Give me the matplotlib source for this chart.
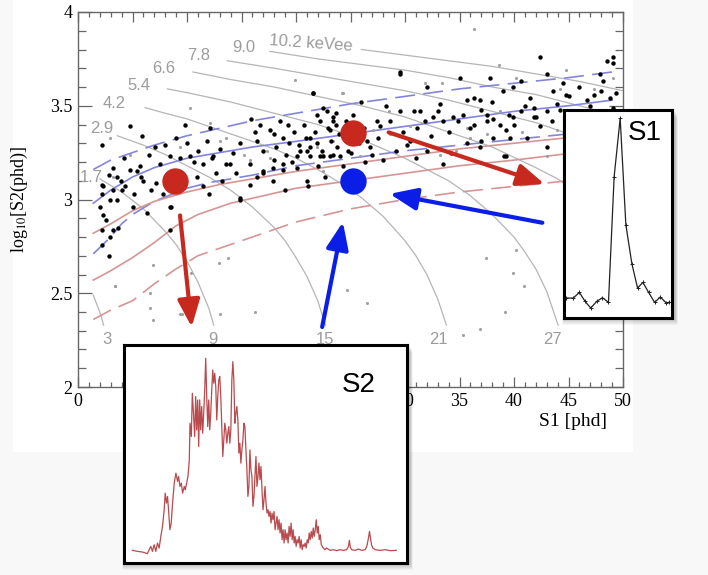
import matplotlib.pyplot as plt
from matplotlib.patches import Rectangle
from matplotlib.ticker import MultipleLocator, FormatStrFormatter

plt.rcParams['mathtext.fontset'] = 'stix'

# ---------------- data ----------------
# ER band (blue) and NR band (red): S1 [phd] vs log10(S2)
er_up_x = [1.4, 3, 5, 7, 10, 13, 16, 20, 25, 30, 35, 40, 45, 49]
er_up_y = [3.16, 3.21, 3.25, 3.29, 3.34, 3.38, 3.42, 3.46, 3.51, 3.55, 3.59, 3.62, 3.65, 3.68]
er_mid_x = [1.4, 3, 5, 7, 10, 13, 16, 20, 25, 30, 35, 40, 45, 49]
er_mid_y = [2.98, 3.05, 3.12, 3.17, 3.22, 3.25, 3.28, 3.31, 3.35, 3.39, 3.43, 3.47, 3.50, 3.53]
er_lo_x = [1.4, 3, 4, 5, 7, 10, 12, 16, 20, 25, 30, 35, 40, 45, 49]
er_lo_y = [2.71, 2.80, 2.87, 2.92, 2.99, 3.06, 3.09, 3.13, 3.18, 3.22, 3.26, 3.29, 3.32, 3.35, 3.38]
nr_up_x = [1.4, 3, 5, 7, 10, 13, 16, 20, 25, 30, 35, 40, 45, 49]
nr_up_y = [2.82, 2.87, 2.94, 2.99, 3.04, 3.08, 3.11, 3.15, 3.19, 3.23, 3.27, 3.30, 3.33, 3.36]
nr_mid_x = [1.4, 3, 5, 7, 9, 11, 14, 17, 20, 25, 30, 35, 40, 45, 49]
nr_mid_y = [2.57, 2.62, 2.69, 2.77, 2.86, 2.92, 2.98, 3.02, 3.06, 3.10, 3.14, 3.18, 3.21, 3.245, 3.27]
nr_lo_x = [1.4, 3, 5, 7, 9, 11, 14, 17, 20, 25, 30, 35, 40, 45, 49]
nr_lo_y = [2.36, 2.41, 2.46, 2.55, 2.63, 2.70, 2.76, 2.82, 2.88, 2.95, 3.00, 3.04, 3.07, 3.10, 3.12]

# constant energy contours (gray)
c03_x = [1.4, 1.8, 2.0, 2.35]
c03_y = [2.49, 2.43, 2.40, 2.33]
c17_x = [2.0, 4, 6, 8, 9, 10, 11, 12, 12.45]
c17_y = [3.11, 3.04, 2.95, 2.83, 2.76, 2.67, 2.56, 2.42, 2.33]
c29_x = [3.6, 6, 8, 10, 12, 14, 16, 18, 19, 20, 21, 22, 22.7]
c29_y = [3.34, 3.29, 3.24, 3.18, 3.12, 3.05, 2.96, 2.85, 2.78, 2.69, 2.59, 2.46, 2.33]
c42_x = [6.15, 8, 10, 12, 14, 16, 18, 20, 22, 24, 26, 28, 30, 31, 32, 33, 33.8]
c42_y = [3.49, 3.46, 3.43, 3.39, 3.35, 3.31, 3.27, 3.22, 3.16, 3.09, 3.01, 2.91, 2.78, 2.70, 2.60, 2.47, 2.33]
c54_x = [8.2, 10, 14, 18, 22, 26, 30, 34, 36, 38, 40, 41, 42, 43, 44.05]
c54_y = [3.59, 3.57, 3.52, 3.46, 3.40, 3.32, 3.22, 3.10, 3.02, 2.92, 2.80, 2.72, 2.63, 2.51, 2.33]
c66_x = [10.55, 14, 18, 22, 26, 30, 34, 38, 42, 44, 46, 48, 50]
c66_y = [3.68, 3.64, 3.60, 3.55, 3.50, 3.44, 3.36, 3.28, 3.17, 3.11, 3.03, 2.94, 2.82]
c78_x = [13.7, 18, 22, 26, 30, 34, 38, 42, 46, 48, 50]
c78_y = [3.74, 3.70, 3.66, 3.62, 3.58, 3.53, 3.47, 3.41, 3.33, 3.28, 3.24]
c90_x = [17.6, 22, 26, 30, 34, 38, 42, 46, 50]
c90_y = [3.79, 3.75, 3.72, 3.69, 3.65, 3.60, 3.56, 3.50, 3.44]
c102_x = [26, 30, 34, 38, 42, 46, 50]
c102_y = [3.80, 3.77, 3.74, 3.71, 3.67, 3.63, 3.58]

kevee_labels = ['1.7', '2.9', '4.2', '5.4', '6.6', '7.8', '9.0', '10.2 keVee']
kevee_lx = [1.2, 2.2, 3.3, 5.6, 7.9, 11.1, 15.2, 21.4]
kevee_ly = [3.12, 3.38, 3.51, 3.61, 3.70, 3.77, 3.81, 3.835]
kevnr_labels = ['3', '9', '15', '21', '27']
kevnr_lx = [2.7, 12.4, 22.7, 33.1, 43.5]

# events
black_x = [2.17, 4.77, 5.84, 7.06, 9.82, 11.8, 12.1, 15.9, 16.7, 17.6, 18.5, 18.8, 19.4, 20.7, 21.6,
           22.2, 22.8, 23.4, 23.7, 16.4, 17.0, 18.2, 19.1, 20.4, 21.3, 22.4, 23.1, 13.6, 12.7, 10.9,
           11.5, 10.3, 9.4, 8.4, 7.5, 5.7, 4.8, 3.2, 3.6, 2.3, 15.8, 17.0, 17.9, 18.8, 20.1, 21.0,
           15.8, 17.9,
           2.2, 2.2, 2.0, 2.3, 2.6, 2.2, 2.2, 2.9, 3.2, 3.7, 2.8, 2.9, 3.6, 3.2, 3.9, 4.3, 5.4, 5.8,
           5.1, 6.3, 8.4, 8.4, 7.8, 7.2, 10.6, 11.5, 12.4, 13.9, 14.9, 17.0, 18.8, 21.1, 20.1, 22.5,
           29.5, 21.6, 22.5, 23.4, 23.7, 23.1, 21.3, 21.9, 21.0, 22.2, 23.4, 26.5, 26.8, 27.4, 27.7,
           28.0, 29.2, 30.5, 31.1, 30.8, 31.4, 32.0, 32.6, 33.5, 33.5, 35.0, 36.3, 36.9, 37.5, 37.8,
           38.1, 38.7, 39.3, 39.9, 40.6, 40.6, 41.5, 41.8, 42.4, 42.4, 43.0, 43.6, 43.9, 44.5, 44.8,
           45.4, 46.7, 47.3, 47.9, 48.2, 48.5, 49.1, 48.8, 49.4, 49.1, 39.0, 39.9, 34.4, 34.9, 36.3,
           37.5, 38.1, 39.6, 41.2, 41.8, 43.0, 43.0, 39.3, 36.9, 35.7, 32.0, 29.5, 33.2, 35.7, 21.3,
           29.5, 49.1, 8.5, 14.9, 39.1,
           18.0, 19.8, 20.9, 21.7, 22.9, 23.9, 19.3, 21.9, 23.2, 20.3, 18.0, 19.6, 22.0, 23.8, 16.2,
           14.9, 14.2, 13.0, 12.3, 11.0, 10.0, 9.0, 8.0, 6.5, 6.0, 4.2, 4.0, 2.8, 5.0, 6.7, 9.2,
           12.0, 13.2, 14.5, 16.4, 19.0, 22.7, 24.3,
           25.2, 25.8, 26.2, 27.0, 28.6, 29.8, 30.2, 31.8, 32.4, 33.0, 34.0, 35.3, 36.0, 37.0, 38.0,
           39.5, 40.0, 41.0, 42.0, 43.5, 44.2, 45.0, 46.0, 46.2, 47.0, 48.0, 27.5, 31.0, 34.2, 37.0,
           28.3, 26.0, 24.8, 24.5, 24.0, 25.0, 26.3, 24.6]
black_y = [3.29, 3.39, 3.34, 3.28, 3.40, 3.31, 3.38, 3.43, 3.40, 3.37, 3.42, 3.33, 3.30, 3.40, 3.57,
           3.42, 3.47, 3.42, 3.46, 3.31, 3.26, 3.28, 3.24, 3.26, 3.23, 3.26, 3.23, 3.19, 3.14, 3.12,
           3.19, 3.23, 3.22, 3.23, 3.19, 3.18, 3.16, 3.17, 3.12, 3.07, 3.19, 3.14, 3.17, 3.19, 3.17, 3.10,
           3.08, 3.10,
           3.08, 3.03, 2.96, 2.92, 2.89, 2.84, 2.76, 2.80, 2.84, 2.85, 2.70, 3.00, 3.00, 3.05, 3.10, 3.07,
           3.15, 3.12, 3.03, 2.93, 2.96, 2.84, 3.03, 3.09, 3.20, 3.07, 3.23, 3.19, 3.00, 3.15, 3.16, 3.07,
           3.23, 3.23,
           3.68, 3.57, 3.49, 3.44, 3.40, 3.37, 3.33, 3.30, 3.26, 3.23, 3.24, 3.31, 3.28, 3.42, 3.39,
           3.21, 3.26, 3.31, 3.38, 3.47, 3.47, 3.60, 3.44, 3.42, 3.19, 3.65, 3.54, 3.53, 3.45, 3.65,
           3.43, 3.40, 3.37, 3.44, 3.63, 3.47, 3.54, 3.49, 3.76, 3.39, 3.67, 3.58, 3.51, 3.62, 3.56,
           3.47, 3.53, 3.56, 3.67, 3.63, 3.74, 3.76, 3.54, 3.57, 3.49, 3.58, 3.60, 3.44, 3.42, 3.40,
           3.42, 3.33, 3.33, 3.33, 3.44, 3.47, 3.28, 3.23, 3.28, 3.30, 3.26, 3.47, 3.51, 3.53, 3.28,
           3.67, 3.73, 2.96, 3.01, 3.23,
           3.35, 3.36, 3.33, 3.36, 3.38, 3.35, 3.40, 3.45, 3.31, 3.29, 3.21, 3.20, 3.18, 3.28, 3.36,
           3.30, 3.25, 3.27, 3.22, 3.26, 3.30, 3.33, 3.29, 3.24, 3.10, 3.22, 3.05, 3.13, 2.96, 3.05, 3.08,
           3.03, 3.10, 3.14, 3.12, 3.05, 3.12, 3.18,
           3.45, 3.30, 3.38, 3.24, 3.42, 3.36, 3.29, 3.42, 3.34, 3.47, 3.36, 3.45, 3.38, 3.48, 3.52,
           3.45, 3.40, 3.50, 3.44, 3.42, 3.48, 3.55, 3.60, 3.45, 3.50, 3.58, 3.33, 3.22, 3.25, 3.31,
           3.50, 3.52, 3.26, 3.32, 3.23, 3.25, 3.20, 3.42]
gray_x = [3.4, 6.9, 6.6, 6.6, 6.9, 9.5, 10.4, 12.9, 13.8, 13.0, 16.2, 24.7, 26.5, 37.4, 40.2, 39.9,
          40.9, 39.2, 36.9, 35.3, 3.4, 9.4,
          10.3, 19.9, 24.3, 2.9, 4.8, 9.4, 13.6, 15.2, 17.3, 15.8, 12.1, 17.6, 21.9, 23.4, 3.2, 13.0,
          22.5, 36.3, 38.6, 24.2, 31.8, 33.4, 28.5, 25.0, 30.5, 35.7, 36.0, 33.2, 34.7, 40.7, 43.0,
          43.9, 44.8, 47.3, 49.1, 44.8, 40.2, 44.2, 27.1, 37.5, 38.7, 28.6, 25.9, 22.5]
gray_y = [2.54, 2.65, 2.50, 2.42, 2.36, 2.39, 2.61, 2.66, 2.69, 2.39, 2.40, 2.52, 2.45, 2.69, 2.73,
          2.61, 2.54, 2.40, 2.31, 2.28, 2.54, 2.39,
          3.49, 3.64, 3.57, 3.33, 3.24, 3.28, 3.33, 3.24, 3.26, 3.21, 3.41, 3.22, 3.28, 3.31, 3.12,
          3.31, 3.15, 3.91, 3.72, 3.57, 3.62, 3.62, 3.47, 3.39, 3.39, 3.38, 3.33, 3.24, 3.26, 3.36,
          3.23, 3.37, 3.31, 3.59, 3.65, 3.69, 3.65, 3.59, 3.37, 3.35, 3.47, 3.35, 3.23, 3.24]

# highlighted events and arrows (tail -> tip)
red_pts_x = [8.9, 25.2]
red_pts_y = [3.10, 3.353]
blue_pt_x = [25.2]
blue_pt_y = [3.10]
red_arrows = [((9.36, 2.915), (10.43, 2.32)), ((28.5, 3.358), (42.8, 3.083))]
blue_arrows = [((22.4, 2.32), (24.3, 2.88)), ((42.6, 2.876), (28.6, 3.03))]

# waveforms (sample, amplitude)
s2_t = [70, 85, 100, 115, 120, 125, 130, 135, 140, 145, 150, 155, 160, 165, 168, 172, 175, 178, 182,
        186, 190, 195, 200, 205, 208, 212, 216, 220, 225, 228, 232, 236, 240, 242, 246, 249, 253,
        256, 259, 262, 265, 268, 271, 274, 277, 280, 283, 286, 289, 292, 295, 298, 301, 304, 307,
        310, 313, 316, 319, 322, 325, 328, 331, 334, 337, 340, 343, 346, 349, 352, 355, 358, 361,
        364, 367, 370, 373, 376, 379, 382, 385, 388, 391, 394, 397, 400, 403, 406, 409, 412, 415,
        418, 421, 424, 427, 430, 433, 436, 439, 442, 445, 448, 451, 454, 457, 460, 463, 466, 469,
        472, 475, 478, 481, 484, 487, 490, 493, 496, 499, 502, 505, 508, 511, 514, 517, 520, 523,
        526, 529, 532, 535, 538, 541, 544, 547, 550, 553, 556, 559, 562, 565, 568, 571, 574, 577,
        580, 583, 586, 589, 592, 595, 598, 601, 604, 607, 610, 613, 616, 619, 622, 625, 628, 631,
        634, 637, 640, 645, 650, 660, 670, 680, 690, 700, 710, 715, 718, 721, 725, 735, 745, 755,
        765, 770, 774, 778, 781, 784, 788, 795, 810, 825, 840, 858]
s2_a = [38, 35, 33, 28, 40, 50, 35, 55, 35, 60, 45, 80, 110, 160, 210, 180, 200, 160, 100,
        120, 180, 240, 270, 245, 260, 230, 240, 210, 230, 220, 240, 260, 310, 420, 380, 510, 440,
        380, 500, 400, 490, 350, 490, 400, 470, 390, 450, 520, 615, 500, 410, 490, 400, 450, 520,
        580, 540, 570, 530, 430, 500, 550, 560, 500, 410, 320, 370, 420, 400, 360, 390, 410, 360,
        400, 550, 605, 550, 420, 450, 470, 430, 330, 360, 300, 340, 370, 420, 410, 340, 280, 200,
        230, 340, 280, 260, 170, 200, 260, 320, 230, 260, 300, 250, 290, 220, 160, 190, 230, 180,
        150, 160, 140, 155, 120, 150, 130, 155, 100, 120, 140, 100, 130, 90, 120, 70, 100, 60,
        100, 70, 90, 60, 110, 80, 120, 70, 100, 60, 80, 50, 70, 60, 80, 45, 70, 40,
        55, 50, 60, 45, 70, 60, 90, 70, 95, 75, 105, 80, 100, 130, 90, 110, 70, 85,
        55, 50, 45, 40, 45, 38, 40, 37, 40, 38, 40, 50, 68, 45, 40, 38, 42, 38,
        40, 50, 70, 95, 75, 55, 45, 40, 38, 40, 37, 38]
s1_t = [78, 100, 118, 135, 152, 170, 187, 205, 222, 240, 257, 275, 292, 308, 325, 343, 360, 378, 385]
s1_a = [60, 60, 77, 50, 30, 50, 61, 47, 425, 600, 280, 163, 90, 107, 77, 47, 63, 45, 47]

# ---------------- drawing ----------------
W, H = 708, 575
fig = plt.figure(figsize=(W / 100, H / 100), dpi=100, facecolor='#f8f8f8')


def box(x0, y0, x1, y1):
    return [x0 / W, 1 - y1 / H, (x1 - x0) / W, (y1 - y0) / H]


fig.patches.append(Rectangle((13 / W, 1 - 452 / H), 620 / W, 452 / H, transform=fig.transFigure,
                             facecolor='white', edgecolor='none', zorder=-5))

ax = fig.add_axes(box(78, 12, 623, 387))
ax.set_xlim(0, 50)
ax.set_ylim(2, 4)

gray_line = '#b5b5b5'
for cx, cy in [(c03_x, c03_y), (c17_x, c17_y), (c29_x, c29_y), (c42_x, c42_y), (c54_x, c54_y),
               (c66_x, c66_y), (c78_x, c78_y), (c90_x, c90_y), (c102_x, c102_y)]:
    ax.plot(cx, cy, color=gray_line, lw=0.9, zorder=1)

lab_font = dict(color='#9c9c9c', fontsize=12, family='Liberation Sans')
for t, lx, ly in zip(kevee_labels, kevee_lx, kevee_ly):
    ax.text(lx, ly, t, ha='center', va='center', rotation=-4 if 'keV' in t else 0, **lab_font)
for t, lx in zip(kevnr_labels, kevnr_lx):
    ax.text(lx, 2.255, t, ha='center', va='center', **lab_font)

blue_c = '#8484dc'
pink_c = '#d69595'
ax.plot(er_up_x, er_up_y, color=blue_c, lw=1.2, dashes=(12, 5), zorder=2)
ax.plot(er_mid_x, er_mid_y, color=blue_c, lw=1.2, zorder=2)
ax.plot(er_lo_x, er_lo_y, color=blue_c, lw=1.2, dashes=(12, 5), zorder=2)
ax.plot(nr_up_x, nr_up_y, color=pink_c, lw=1.2, zorder=2)
ax.plot(nr_mid_x, nr_mid_y, color=pink_c, lw=1.2, zorder=2)
ax.plot(nr_lo_x, nr_lo_y, color=pink_c, lw=1.2, dashes=(12, 5), zorder=2)

ax.scatter(gray_x, gray_y, s=5, color='#a0a0a0', lw=0, zorder=3)
ax.scatter(black_x, black_y, s=10, color='black', lw=0, zorder=3)

red_c = '#c8291f'
blue_dot = '#0a1ee6'
ax.plot(red_pts_x, red_pts_y, 'o', ms=19, color=red_c, mec='none', zorder=5)
ax.plot(blue_pt_x, blue_pt_y, 'o', ms=19, color=blue_dot, mec='none', zorder=5)
for (tail, tip), col in [(a, red_c) for a in red_arrows] + [(a, blue_dot) for a in blue_arrows]:
    ax.annotate('', xy=tip, xytext=tail,
                arrowprops=dict(arrowstyle='-|>,head_length=1.1,head_width=0.45', lw=3,
                                color=col, shrinkA=0, shrinkB=0, mutation_scale=15), zorder=6)

ax.xaxis.set_major_locator(MultipleLocator(5))
ax.xaxis.set_minor_locator(MultipleLocator(1))
ax.yaxis.set_major_locator(MultipleLocator(0.5))
ax.yaxis.set_minor_locator(MultipleLocator(0.1))
ax.yaxis.set_major_formatter(FormatStrFormatter('%g'))
# x tick labels 5..25 sit under the S2 inset and are not visible in the figure
ax.xaxis.set_major_formatter(lambda v, pos: '' if 0 < v < 28 else '%g' % v)
ax.tick_params(which='both', direction='in', top=True, right=True, color='#666',
               labelsize=13, width=0.9)
ax.tick_params(axis='x', which='major', length=7, pad=4)
ax.tick_params(axis='x', which='minor', length=3.5)
ax.tick_params(axis='y', which='major', length=10, pad=4)
ax.tick_params(axis='y', which='minor', length=5.5)
for lab in ax.get_xticklabels() + ax.get_yticklabels():
    lab.set_family('Liberation Serif')
for sp in ax.spines.values():
    sp.set_color('#666')
    sp.set_linewidth(1)
ax.set_ylabel(r'log$_{10}$[S2(phd)]', fontsize=13, family='Liberation Serif')
ax.yaxis.set_label_coords(-0.088, 0.5)
fig.text(607 / W, 1 - 422 / H, 'S1 [phd]', ha='right', va='center', fontsize=14,
         family='Liberation Serif')


def shadow(x0, y0, x1, y1):
    for k in range(1, 8):
        fig.patches.append(Rectangle(((x0 + 1 - k * 0.4) / W, 1 - (y1 + k) / H),
                                     (x1 - x0 + k * 0.8 + 2) / W, (y1 - y0) / H,
                                     transform=fig.transFigure, facecolor='black',
                                     edgecolor='none', alpha=0.035, zorder=8))


shadow(124, 345, 407, 563)
shadow(564, 110, 672, 318)

ax2 = fig.add_axes(box(124, 345, 407, 563), zorder=10)
ax2.plot(s2_t, s2_a, color='#b94a4d', lw=0.9)
ax2.set_xlim(45, 890)
ax2.set_ylim(0, 655)
ax2.text(0.83, 0.817, 'S2', transform=ax2.transAxes, ha='center', va='center', fontsize=20,
         family='Liberation Sans')

ax3 = fig.add_axes(box(564, 110, 672, 318), zorder=10)
ax3.plot(s1_t, s1_a, color='#222', lw=0.9, marker='+', ms=3, mew=0.7)
ax3.set_xlim(72, 395)
ax3.set_ylim(0, 625)
ax3.text(0.745, 0.889, 'S1', transform=ax3.transAxes, ha='center', va='center', fontsize=20,
         family='Liberation Sans')

for a in (ax2, ax3):
    a.set_xticks([])
    a.set_yticks([])
    for sp in a.spines.values():
        sp.set_linewidth(2.2)
        sp.set_color('black')

fig.savefig('out.png', dpi=100, facecolor=fig.get_facecolor())
